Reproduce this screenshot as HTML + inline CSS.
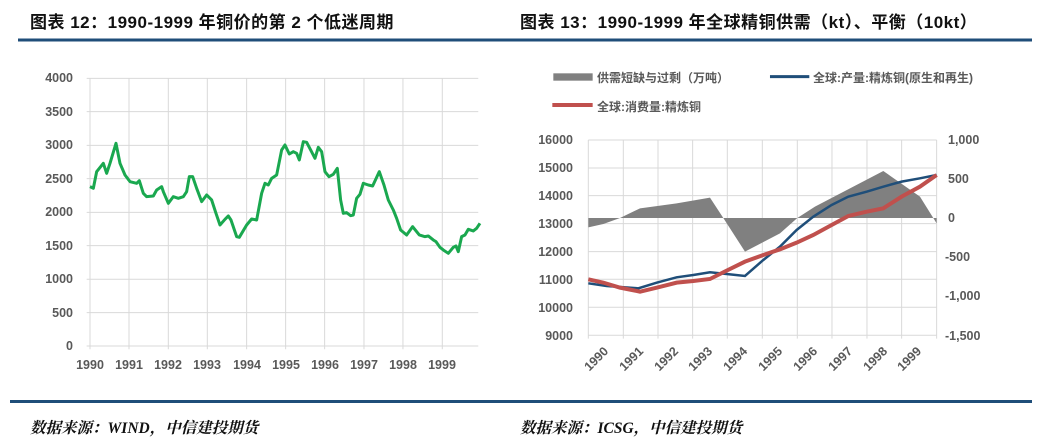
<!DOCTYPE html>
<html><head><meta charset="utf-8"><style>
body{margin:0;width:1049px;height:445px;background:#fff;overflow:hidden;font-family:"Liberation Sans","Noto Sans CJK SC",sans-serif}
</style></head><body>
<svg width="1049" height="445" xmlns="http://www.w3.org/2000/svg" style="position:absolute;left:0;top:0" font-family="Liberation Sans, Noto Sans CJK SC, sans-serif">
<text x="30" y="28" font-size="17" font-weight="bold" fill="#111" letter-spacing="0.5">图表 12：1990-1999 年铜价的第 2 个低迷周期</text>
<text x="520" y="28" font-size="17" font-weight="bold" fill="#111" letter-spacing="0.5">图表 13：1990-1999 年全球精铜供需（kt）、平衡（10kt）</text>
<rect x="18" y="38.5" width="1014" height="3" fill="#1f4e79"/>
<rect x="10" y="400" width="1022" height="3" fill="#1f4e79"/>
<text x="30" y="433" font-size="15.5" font-weight="bold" font-style="italic" fill="#111" font-family="Liberation Serif, Noto Serif CJK SC, serif">数据来源：WIND，中信建投期货</text>
<text x="520" y="433" font-size="15.5" font-weight="bold" font-style="italic" fill="#111" font-family="Liberation Serif, Noto Serif CJK SC, serif">数据来源：ICSG，中信建投期货</text>

<!-- left chart -->
<g transform="translate(30,60) scale(0.3333)">
<g stroke="#d9d9d9" stroke-width="1" fill="none">
<line x1="170" y1="55" x2="1345" y2="55" vector-effect="non-scaling-stroke"/>
<line x1="170" y1="155" x2="1345" y2="155" vector-effect="non-scaling-stroke"/>
<line x1="170" y1="256" x2="1345" y2="256" vector-effect="non-scaling-stroke"/>
<line x1="170" y1="356" x2="1345" y2="356" vector-effect="non-scaling-stroke"/>
<line x1="170" y1="457" x2="1345" y2="457" vector-effect="non-scaling-stroke"/>
<line x1="170" y1="557" x2="1345" y2="557" vector-effect="non-scaling-stroke"/>
<line x1="170" y1="658" x2="1345" y2="658" vector-effect="non-scaling-stroke"/>
<line x1="170" y1="758" x2="1345" y2="758" vector-effect="non-scaling-stroke"/>
<line x1="170" y1="858" x2="1345" y2="858" vector-effect="non-scaling-stroke"/>
<line x1="180" y1="55" x2="180" y2="868" vector-effect="non-scaling-stroke"/>
<line x1="297" y1="55" x2="297" y2="868" vector-effect="non-scaling-stroke"/>
<line x1="415" y1="55" x2="415" y2="868" vector-effect="non-scaling-stroke"/>
<line x1="532" y1="55" x2="532" y2="868" vector-effect="non-scaling-stroke"/>
<line x1="650" y1="55" x2="650" y2="868" vector-effect="non-scaling-stroke"/>
<line x1="767" y1="55" x2="767" y2="868" vector-effect="non-scaling-stroke"/>
<line x1="884" y1="55" x2="884" y2="868" vector-effect="non-scaling-stroke"/>
<line x1="1002" y1="55" x2="1002" y2="868" vector-effect="non-scaling-stroke"/>
<line x1="1119" y1="55" x2="1119" y2="868" vector-effect="non-scaling-stroke"/>
<line x1="1237" y1="55" x2="1237" y2="868" vector-effect="non-scaling-stroke"/>
</g>
<polyline fill="none" stroke="#1aa84f" stroke-width="3" stroke-linejoin="round" vector-effect="non-scaling-stroke" points="180,380 190,385 200,335 220,310 230,340 240,310 258,250 270,310 285,345 300,365 320,370 328,362 340,400 350,410 370,408 380,390 395,380 400,395 415,430 430,410 445,415 460,410 470,395 478,350 488,350 500,385 515,425 530,405 545,420 558,460 570,495 585,478 595,468 603,480 620,530 628,532 650,495 665,477 680,480 695,400 705,370 715,375 725,355 740,345 755,270 765,255 778,282 790,275 800,280 808,300 820,245 830,247 842,270 855,295 865,262 875,275 885,335 897,350 910,343 922,325 932,420 940,460 950,458 962,467 970,465 980,415 990,403 1000,370 1015,375 1028,378 1048,335 1062,375 1075,420 1090,450 1100,475 1112,510 1130,525 1148,500 1168,525 1185,530 1195,528 1210,540 1218,545 1230,562 1240,570 1255,580 1270,562 1278,558 1285,575 1295,530 1305,525 1315,508 1330,513 1340,505 1350,490"/>
</g>
<g font-size="12.5" font-weight="bold" fill="#595959" text-anchor="end">
<text x="73" y="82">4000</text><text x="73" y="116">3500</text><text x="73" y="149">3000</text><text x="73" y="183">2500</text><text x="73" y="216">2000</text><text x="73" y="250">1500</text><text x="73" y="283">1000</text><text x="73" y="317">500</text><text x="73" y="350">0</text>
</g>
<g font-size="12.5" font-weight="bold" fill="#595959" text-anchor="middle">
<text x="90" y="369">1990</text><text x="129" y="369">1991</text><text x="168" y="369">1992</text><text x="207" y="369">1993</text><text x="247" y="369">1994</text><text x="286" y="369">1995</text><text x="325" y="369">1996</text><text x="364" y="369">1997</text><text x="403" y="369">1998</text><text x="442" y="369">1999</text>
</g>

<!-- right chart -->
<g transform="translate(520,60) scale(0.3333)">
<g stroke="#d9d9d9" fill="none">
<line x1="205" y1="240" x2="1250" y2="240" vector-effect="non-scaling-stroke"/>
<line x1="205" y1="324" x2="1250" y2="324" vector-effect="non-scaling-stroke"/>
<line x1="205" y1="407" x2="1250" y2="407" vector-effect="non-scaling-stroke"/>
<line x1="205" y1="491" x2="1250" y2="491" vector-effect="non-scaling-stroke"/>
<line x1="205" y1="575" x2="1250" y2="575" vector-effect="non-scaling-stroke"/>
<line x1="205" y1="658" x2="1250" y2="658" vector-effect="non-scaling-stroke"/>
<line x1="205" y1="742" x2="1250" y2="742" vector-effect="non-scaling-stroke"/>
<line x1="205" y1="826" x2="1250" y2="826" vector-effect="non-scaling-stroke"/>
<line x1="205" y1="240" x2="205" y2="836" vector-effect="non-scaling-stroke"/>
<line x1="310" y1="240" x2="310" y2="836" vector-effect="non-scaling-stroke"/>
<line x1="414" y1="240" x2="414" y2="836" vector-effect="non-scaling-stroke"/>
<line x1="518" y1="240" x2="518" y2="836" vector-effect="non-scaling-stroke"/>
<line x1="622" y1="240" x2="622" y2="836" vector-effect="non-scaling-stroke"/>
<line x1="727" y1="240" x2="727" y2="836" vector-effect="non-scaling-stroke"/>
<line x1="832" y1="240" x2="832" y2="836" vector-effect="non-scaling-stroke"/>
<line x1="936" y1="240" x2="936" y2="836" vector-effect="non-scaling-stroke"/>
<line x1="1041" y1="240" x2="1041" y2="836" vector-effect="non-scaling-stroke"/>
<line x1="1145" y1="240" x2="1145" y2="836" vector-effect="non-scaling-stroke"/>
<line x1="1250" y1="240" x2="1250" y2="836" vector-effect="non-scaling-stroke"/>
</g>
<polygon fill="#808080" points="205,474 205,502 250,492 300,474 360,445 470,430 570,413 610,474 675,575 780,520 832,474 885,440 1090,333 1200,410 1240,474 1250,490 1250,474"/>
<polyline fill="none" stroke="#1f4e79" stroke-width="2.5" vector-effect="non-scaling-stroke" points="205,670 260,678 355,685 410,668 470,652 520,645 570,637 620,642 675,648 730,600 780,560 830,510 880,470 935,435 985,410 1040,395 1090,380 1145,365 1200,355 1250,345"/>
<polyline fill="none" stroke="#c0504d" stroke-width="4" vector-effect="non-scaling-stroke" points="205,658 250,668 300,683 360,695 410,683 470,668 520,663 570,657 620,632 675,605 730,585 780,568 830,548 880,525 935,495 985,468 1040,455 1090,445 1145,410 1200,380 1250,345"/>
<rect x="100" y="40" width="118" height="22" fill="#808080"/>
<line x1="750" y1="50" x2="868" y2="50" stroke="#1f4e79" stroke-width="3" vector-effect="non-scaling-stroke"/>
<line x1="97" y1="135" x2="218" y2="135" stroke="#c0504d" stroke-width="4" vector-effect="non-scaling-stroke"/>
</g>
<g font-size="12" font-weight="bold" fill="#595959">
<text x="597" y="82">供需短缺与过剩（万吨）</text>
<text x="813" y="82">全球:产量:精炼铜(原生和再生)</text>
<text x="597" y="111">全球:消费量:精炼铜</text>
</g>
<g font-size="12.5" font-weight="bold" fill="#595959" text-anchor="end">
<text x="573" y="144">16000</text><text x="573" y="172">15000</text><text x="573" y="200">14000</text><text x="573" y="228">13000</text><text x="573" y="256">12000</text><text x="573" y="284">11000</text><text x="573" y="312">10000</text><text x="573" y="340">9000</text>
</g>
<g font-size="12.5" font-weight="bold" fill="#595959" text-anchor="start">
<text x="948" y="144">1,000</text><text x="948" y="183">500</text><text x="948" y="222">0</text><text x="945" y="261">-500</text><text x="945" y="300">-1,000</text><text x="945" y="340">-1,500</text>
</g>
<g font-size="12.5" font-weight="bold" fill="#595959" text-anchor="end">
<text transform="translate(609,352) rotate(-45)">1990</text>
<text transform="translate(644,352) rotate(-45)">1991</text>
<text transform="translate(679,352) rotate(-45)">1992</text>
<text transform="translate(713,352) rotate(-45)">1993</text>
<text transform="translate(748,352) rotate(-45)">1994</text>
<text transform="translate(783,352) rotate(-45)">1995</text>
<text transform="translate(818,352) rotate(-45)">1996</text>
<text transform="translate(853,352) rotate(-45)">1997</text>
<text transform="translate(888,352) rotate(-45)">1998</text>
<text transform="translate(922,352) rotate(-45)">1999</text>
</g>
</svg>
</body></html>
